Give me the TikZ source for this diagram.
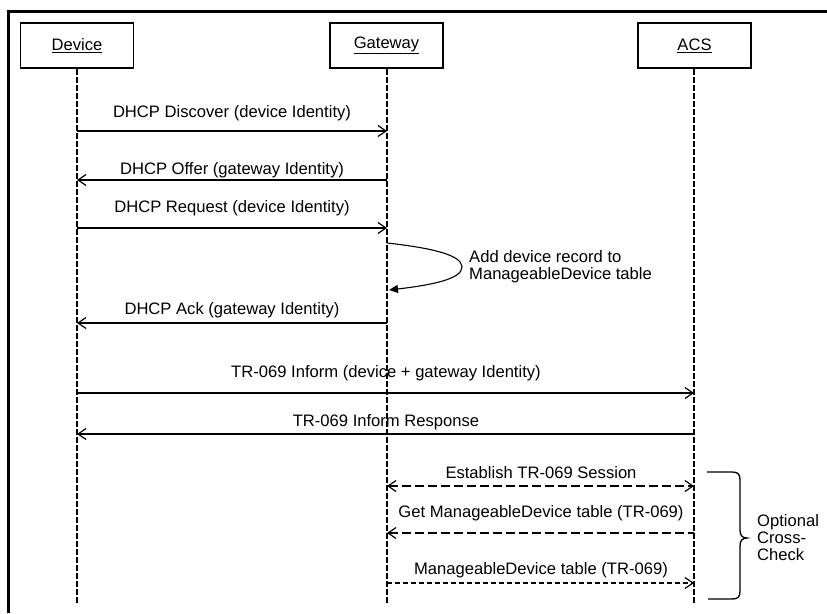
\documentclass[tikz,border=0pt]{standalone}
\usepackage{fontspec}
\setmainfont{Liberation Sans}
\usetikzlibrary{arrows.meta}
\begin{document}
\begin{tikzpicture}[x=1pt,y=-1pt,
  every node/.style={font=\fontsize{16.6}{17}\selectfont, inner sep=0pt},
  actor/.style={draw, line width=1.5pt, minimum width=113pt, minimum height=45pt},
  life/.style={line width=1.6pt, dash pattern=on 6pt off 2pt},
  msg/.style={line width=1.2pt, -{Straight Barb[length=8pt,width=11pt]}},
  tmsg/.style={line width=2.9pt, dash pattern=on 9pt off 4pt},
  dmsg/.style={line width=1.2pt, dash pattern=on 5pt off 3pt, -{Straight Barb[length=8pt,width=11pt]}},
  lbl/.style={anchor=center},
  note/.style={anchor=west, align=left}
]
\useasboundingbox (0,0) rectangle (827,613);
\fill[white] (0,0) rectangle (827,613);
% frame
\draw[line width=3pt] (8.8,613) -- (8.8,11.2) -- (827,11.2);

% actors
\node[actor] (dev) at (77,45.5) {\underline{Device}};
\node[actor] (gw) at (386.5,45.5) {\underline{Gateway}};
\node[actor] (acs) at (694.5,45.5) {\underline{ACS}};

% lifeline ends
\coordinate (devE) at (77,603);
\coordinate (gwE) at (387,603);
\coordinate (acsE) at (694,603);
\draw[life] (dev.south) -- (devE);
\draw[life] ([xshift=0.5pt]gw.south) -- (gwE);
\draw[life] ([xshift=-0.5pt]acs.south) -- (acsE);

% message end points
\foreach \n/\y in {1/131,2/180,3/228,4/323,5/393,6/434,7/486,8/533,9/583}{
  \coordinate (d\n) at (77,\y);
  \coordinate (g\n) at (387,\y);
  \coordinate (a\n) at (694,\y);
}

\draw[msg] (d1) -- (g1);
\node[lbl] (l1) at (232,113) {DHCP Discover (device Identity)};
\draw[msg] (g2) -- (d2);
\node[lbl] (l2) at (232,170) {DHCP Offer (gateway Identity)};
\draw[msg] (d3) -- (g3);
\node[lbl] (l3) at (232,208) {DHCP Request (device Identity)};

% self loop
\coordinate (s0) at (387,243);
\coordinate (s1) at (389,290);
\draw[line width=1.1pt, -{Triangle[length=9pt,width=8pt]}]
  (s0) .. controls (432,248) and (462,255) .. (462,267)
       .. controls (462,279) and (432,285) .. (s1);
\node[note] (n1) at (469,266.5) {Add device record to\\ManageableDevice table};

\draw[msg] (g4) -- (d4);
\node[lbl] (l4) at (232,310) {DHCP Ack (gateway Identity)};
\draw[msg] (d5) -- (a5);
\node[lbl] (l5) at (386,373) {TR-069 Inform (device + gateway Identity)};
\draw[msg] (a6) -- (d6);
\node[lbl] (l6) at (386,422) {TR-069 Inform Response};

\draw[tmsg, {Straight Barb[length=8pt,width=11pt,line width=1.2pt]}-{Straight Barb[length=8pt,width=11pt,line width=1.2pt]}] (g7) -- (a7);
\node[lbl] (l7) at (541,473) {Establish TR-069 Session};
\draw[tmsg, {Straight Barb[length=8pt,width=11pt,line width=1.2pt]}-] (g8) -- (a8);
\node[lbl] (l8) at (541,513) {Get ManageableDevice table (TR-069)};
\draw[dmsg] (g9) -- (a9);
\node[lbl] (l9) at (541,570) {ManageableDevice table (TR-069)};

% brace
\coordinate (bt) at (707,472);
\coordinate (bb) at (708,599);
\draw[line width=1.3pt]
  (bt) -- (732,472) .. controls (738,472) and (740,474) .. (740,480)
  -- (740,530) .. controls (740,535) and (742,538) .. (747,538)
  .. controls (742,538) and (740,541) .. (740,546)
  -- (740,591) .. controls (740,597) and (738,599) .. (732,599) -- (bb);
\node[note] (n2) at (757,538) {Optional\\Cross-\\Check};
\end{tikzpicture}
\end{document}
